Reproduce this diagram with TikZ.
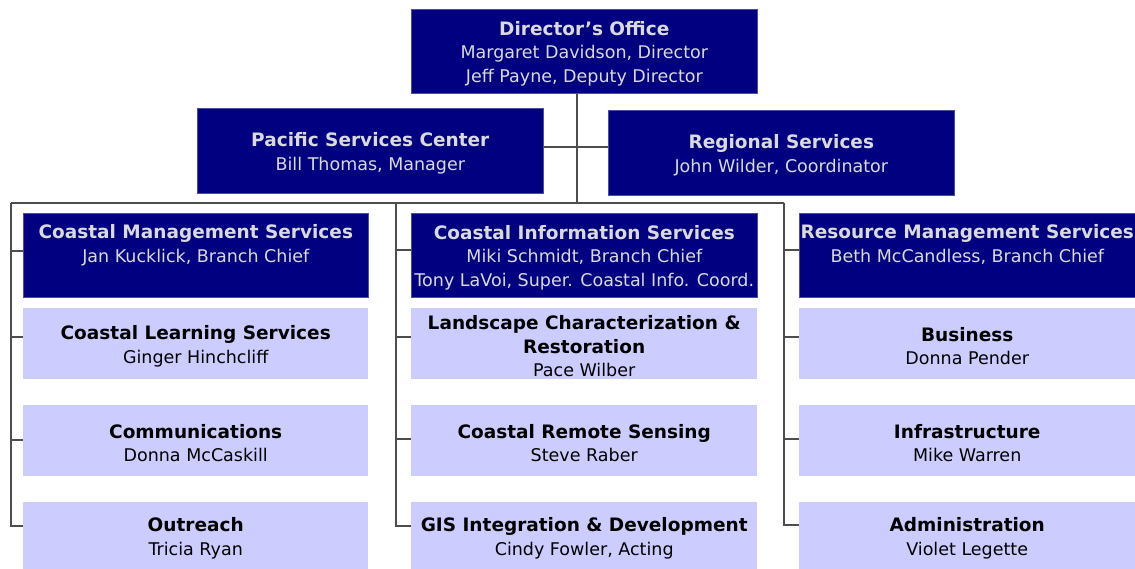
\documentclass[tikz,border=0pt]{standalone}
\usepackage{fontspec}
\setmainfont{DejaVu Sans}
\definecolor{navybox}{HTML}{000080}
\definecolor{lightbox}{HTML}{CCCCFF}
\definecolor{darktext}{HTML}{DADADA}
\definecolor{linegray}{HTML}{4D4D4D}
\newcommand{\ttl}[1]{{\fontsize{18.5}{23.5}\bfseries #1}}
\newcommand{\nm}[1]{{\fontsize{17.5}{23.5}\selectfont #1}}
\newcommand{\dn}{\rule{0pt}{19pt}}
\begin{document}
\begin{tikzpicture}[x=1pt,y=-1pt,
  darkbox/.style={anchor=north west, fill=navybox, draw=navybox!70!white, line width=0.6pt, text=darktext,
    inner sep=0pt, align=center, font=\fontsize{17.5}{23.5}\selectfont},
  litebox/.style={anchor=north west, fill=lightbox, draw=none, text=black,
    inner sep=0pt, align=center, font=\fontsize{17.5}{23.5}\selectfont},
  conn/.style={draw=linegray, line width=1.4pt}]
\useasboundingbox (0,0) rectangle (1135,569);

% top level
\node[darkbox, minimum width=346pt, minimum height=84pt] (dir) at (411,9)
  {\dn\ttl{Director’s Office}\\\nm{Margaret Davidson, Director}\\\nm{Jeff Payne, Deputy Director}};
\node[darkbox, minimum width=346pt, minimum height=85pt] (psc) at (197,108)
  {\dn\ttl{Pacific Services Center}\\\nm{Bill Thomas, Manager}};
\node[darkbox, minimum width=346pt, minimum height=85pt] (reg) at (608,110)
  {\dn\ttl{Regional Services}\\\nm{John Wilder, Coordinator}};

% branches
\node[darkbox, minimum width=345pt, minimum height=84pt] (cms) at (23,213)
  {\ttl{Coastal Management Services}\\\nm{Jan Kucklick, Branch Chief}\\\mbox{}};
\node[darkbox, minimum width=346pt, minimum height=84pt] (cis) at (411,213)
  {\dn\ttl{Coastal Information Services}\\\nm{Miki Schmidt, Branch Chief}\\\nm{Tony LaVoi, Super. Coastal Info. Coord.}};
\node[darkbox, minimum width=336pt, minimum height=84pt] (rms) at (799,213)
  {\ttl{Resource Management Services}\\\nm{Beth McCandless, Branch Chief}\\\mbox{}};

% left column
\node[litebox, minimum width=345pt, minimum height=71pt] (cls) at (23,308)
  {\dn\ttl{Coastal Learning Services}\\\nm{Ginger Hinchcliff}};
\node[litebox, minimum width=345pt, minimum height=71pt] (com) at (23,405)
  {\dn\ttl{Communications}\\\nm{Donna McCaskill}};
\node[litebox, minimum width=345pt, minimum height=67pt] (out) at (23,502)
  {\dn\ttl{Outreach}\\\nm{Tricia Ryan}};

% middle column
\node[litebox, minimum width=346pt, minimum height=71pt] (lcr) at (411,308)
  {\dn\ttl{Landscape Characterization \&}\\\ttl{Restoration}\\\nm{Pace Wilber}};
\node[litebox, minimum width=346pt, minimum height=71pt] (crs) at (411,405)
  {\dn\ttl{Coastal Remote Sensing}\\\nm{Steve Raber}};
\node[litebox, minimum width=346pt, minimum height=67pt] (gis) at (411,502)
  {\dn\ttl{GIS Integration \& Development}\\\nm{Cindy Fowler, Acting}};

% right column
\node[litebox, minimum width=336pt, minimum height=71pt] (bus) at (799,308)
  {\dn\ttl{Business}\\\nm{Donna Pender}};
\node[litebox, minimum width=336pt, minimum height=71pt] (inf) at (799,405)
  {\dn\ttl{Infrastructure}\\\nm{Mike Warren}};
\node[litebox, minimum width=336pt, minimum height=67pt] (adm) at (799,502)
  {\dn\ttl{Administration}\\\nm{Violet Legette}};

% coordinates
\coordinate (trunk) at (577,203);
\coordinate (hl) at (577,147);
\coordinate (busL) at (11,203);
\coordinate (busM) at (396,203);
\coordinate (busR) at (784,203);
\coordinate (tL0) at (11,251);  \coordinate (tL1) at (11,337);
\coordinate (tL2) at (11,440);  \coordinate (tL3) at (11,526);
\coordinate (tM0) at (396,250); \coordinate (tM1) at (396,337);
\coordinate (tM2) at (396,439); \coordinate (tM3) at (396,526);
\coordinate (tR0) at (784,250); \coordinate (tR1) at (784,337);
\coordinate (tR2) at (784,439); \coordinate (tR3) at (784,525);

% connectors
\draw[conn] (dir.south -| trunk) -- (trunk);
\draw[conn] (psc.east |- hl) -- (reg.west |- hl);
\draw[conn] (busL) -- (busR);

\draw[conn] (busL) -- (tL3) -- (out.west |- tL3);
\draw[conn] (tL0) -- (cms.west |- tL0);
\draw[conn] (tL1) -- (cls.west |- tL1);
\draw[conn] (tL2) -- (com.west |- tL2);

\draw[conn] (busM) -- (tM3) -- (gis.west |- tM3);
\draw[conn] (tM0) -- (cis.west |- tM0);
\draw[conn] (tM1) -- (lcr.west |- tM1);
\draw[conn] (tM2) -- (crs.west |- tM2);

\draw[conn] (busR) -- (tR3) -- (adm.west |- tR3);
\draw[conn] (tR0) -- (rms.west |- tR0);
\draw[conn] (tR1) -- (bus.west |- tR1);
\draw[conn] (tR2) -- (inf.west |- tR2);
\end{tikzpicture}
\end{document}
